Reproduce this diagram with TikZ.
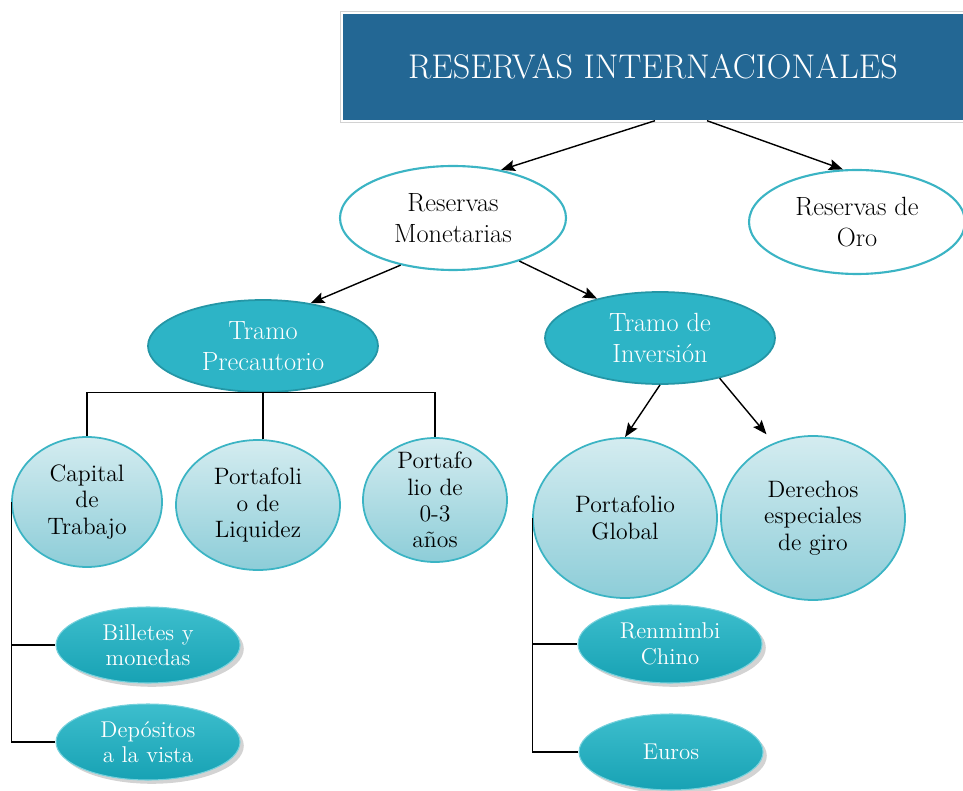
\documentclass[tikz,border=0pt]{standalone}
\usetikzlibrary{shapes.geometric,shadows,arrows.meta}

\definecolor{titleblue}{HTML}{236794}
\definecolor{ovalline}{HTML}{3BB4C4}
\definecolor{tramofill}{HTML}{2DB4C6}
\definecolor{tramoline}{HTML}{2496A6}
\definecolor{leaftop}{HTML}{D4ECF0}
\definecolor{leafbottom}{HTML}{8DCDD8}
\definecolor{cointop}{HTML}{3DBECD}
\definecolor{coinbottom}{HTML}{17A2B4}

\begin{document}
\begin{tikzpicture}[x=0.2mm,y=-0.2mm,
    ->,>={Stealth[length=2.8mm,width=2.2mm,inset=0.5mm]},thick,
    title box/.style={rectangle,fill=titleblue,text=white,minimum width=124mm,
      minimum height=21.2mm,font=\fontsize{19.5}{23}\selectfont},
    white oval/.style={ellipse,draw=ovalline,line width=1.2pt,fill=white,
      align=center,inner sep=0pt,font=\fontsize{15}{17.6}\selectfont},
    tramo oval/.style={ellipse,draw=tramoline,line width=1pt,fill=tramofill,
      text=white,align=center,inner sep=0pt,font=\fontsize{15}{17.6}\selectfont},
    leaf oval/.style={ellipse,draw=ovalline,line width=1pt,top color=leaftop,
      bottom color=leafbottom,align=center,inner sep=0pt,
      font=\fontsize{13.5}{15}\selectfont},
    coin oval/.style={ellipse,draw=cointop!70!white,line width=0.6pt,
      top color=cointop,bottom color=coinbottom,text=white,align=center,
      inner sep=0pt,drop shadow={opacity=0.35},
      font=\fontsize{13}{14.5}\selectfont,minimum width=36.8mm,
      minimum height=15.2mm}]

  \useasboundingbox (0,0) rectangle (963,791);

  % title
  \draw[-,gray!35,thin] (340,11) rectangle (963,122);
  \node[title box] (ri) at (653,67) {RESERVAS INTERNACIONALES};

  % level 1
  \node[white oval,minimum width=45.2mm,minimum height=20.8mm] at (453,218) (rm)
    {Reservas\\Monetarias};
  \node[white oval,minimum width=43.2mm,minimum height=20.8mm] at (857,222) (ro)
    {Reservas de\\Oro};

  % level 2
  \node[tramo oval,minimum width=46mm,minimum height=18.4mm] at (263,346) (tp)
    {Tramo\\Precautorio};
  \node[tramo oval,minimum width=46mm,minimum height=18.4mm] at (660,338) (ti)
    {Tramo de\\Inversi\'on};

  % level 3
  \node[leaf oval,minimum width=30mm,minimum height=26mm] at (87,502) (cap)
    {Capital\\de\\Trabajo};
  \node[leaf oval,minimum width=32.8mm,minimum height=26mm] at (258,505) (liq)
    {Portafoli\\o de\\Liquidez};
  \node[leaf oval,minimum width=28.8mm,minimum height=24.8mm,inner ysep=-3mm]
    at (435,500) (p03) {Portafo\\lio de\\0-3\\a\~nos};
  \node[leaf oval,minimum width=36.8mm,minimum height=32mm] at (625,518) (pg)
    {Portafolio\\Global};
  \node[leaf oval,minimum width=36.8mm,minimum height=32.8mm] at (813,518) (deg)
    {Derechos\\especiales\\de giro};

  % level 4
  \node[coin oval] at (148,645) (bil) {Billetes y\\monedas};
  \node[coin oval] at (148,742) (dep) {Dep\'ositos\\a la vista};
  \node[coin oval,minimum height=15.6mm] at (670,644) (ren) {Renmimbi\\Chino};
  \node[coin oval] at (671,752) (eur) {Euros};

  % arrows
  \path
  ([xshift=0.4mm]ri.south) edge (rm.45)
  ([xshift=10.8mm]ri.south) edge (ro.105)
  (rm.222) edge (tp.42)
  (rm.-33) edge (ti.148)
  (ti.south) edge (pg.north)
  (ti.-34) edge ([yshift=2.4mm]deg.123)
  ;

  % brackets
  \draw[-,semithick] (cap.north) |- (tp.south) -| (p03.north);
  \draw[-,semithick] (tp.south) -- (tp.south |- liq.north);
  \draw[-,semithick] (cap.west) |- (bil.west);
  \draw[-,semithick] (cap.west) |- (dep.west);
  \draw[-,semithick] (pg.west) |- (ren.west);
  \draw[-,semithick] (pg.west) |- (eur.west);

\end{tikzpicture}
\end{document}
